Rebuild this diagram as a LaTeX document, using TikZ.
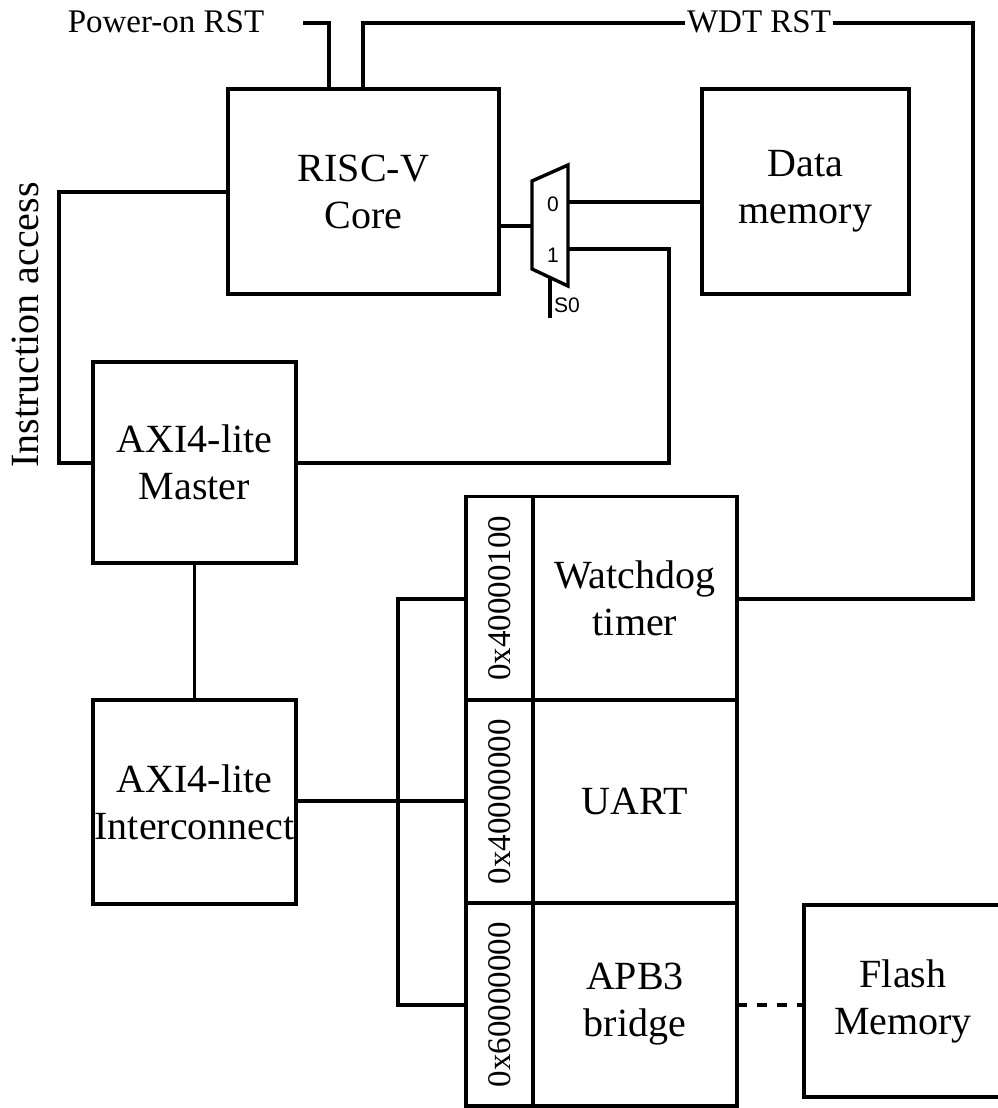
\documentclass[tikz,border=0pt]{standalone}
\usepackage{fontspec}
\setmainfont{Liberation Serif}
\newfontfamily\muxfont{Liberation Sans}
\begin{document}
\begin{tikzpicture}[x=1pt,y=-1pt,line width=3.4pt,
  blk/.style={draw,rectangle,inner sep=0pt,align=center,font=\fontsize{40}{47}\selectfont},
  addr/.style={draw,rectangle,inner sep=0pt,minimum width=67pt,minimum height=203pt},
  addrtxt/.style={rotate=90,font=\fontsize{33}{38}\selectfont},
  lbl/.style={inner sep=0pt,font=\fontsize{33}{38}\selectfont},
  muxlbl/.style={inner sep=0pt,font=\muxfont\fontsize{21}{24}\selectfont}]
\useasboundingbox (0,0) rectangle (997,1108);
% main blocks
\node[blk,minimum width=271pt,minimum height=205pt] (core) at (363.5,191.5) {RISC-V\\Core};
\node[blk,minimum width=207pt,minimum height=205pt] (dmem) at (805.5,191.5) {Data\\memory};
\node[blk,minimum width=203pt,minimum height=201pt] (master) at (194.5,462.5) {AXI4-lite\\Master};
\node[blk,minimum width=203pt,minimum height=204pt] (inter) at (194.5,802) {AXI4-lite\\Interconnect};
% address column
\node[addr] (a1) at (499.5,598) {};
\node[addr] (a2) at (499.5,801.5) {};
\node[addr] (a3) at (499.5,1004.5) {};
\node[addrtxt] at (a1) {0x40000100};
\node[addrtxt] at (a2) {0x40000000};
\node[addrtxt] at (a3) {0x60000000};
% peripherals
\node[blk,minimum width=204pt,minimum height=203pt] (wdt) at (635,598) {Watchdog\\timer};
\node[blk,minimum width=204pt,minimum height=203pt] (uart) at (635,801.5) {UART};
\node[blk,minimum width=204pt,minimum height=203pt] (apb) at (635,1004.5) {APB3\\bridge};
% flash memory (cut at right edge)
\node[inner sep=0pt,align=center,font=\fontsize{40}{47}\selectfont] (flash) at (903,1001) {Flash\\Memory};
\coordinate (fl) at (804,1005);
\draw[line join=miter] (1000,905) -- (804,905) -- (804,1097) -- (1000,1097);
% mux
\coordinate (mA) at (532,181);
\coordinate (mB) at (568,165);
\coordinate (mC) at (568,286);
\coordinate (mD) at (532,269);
\draw[line join=miter] (mA) -- (mB) -- (mC) -- (mD) -- cycle;
\node[muxlbl] at (553,204) {0};
\node[muxlbl] at (553,255) {1};
\node[muxlbl] at (567,305) {S0};
\coordinate (min) at (532,226);
\coordinate (m0) at (568,202);
\coordinate (m1) at (568,249);
\coordinate (sTop) at (550,277);
\coordinate (sBot) at (550,318);
\draw (sTop) -- (sBot);
% labels
\node[lbl] (por) at (166,22) {Power-on RST};
\node[lbl] (wdtrst) at (759,22) {WDT RST};
\node[rotate=90,inner sep=0pt,font=\fontsize{40}{47}\selectfont] (ia) at (25,325) {Instruction access};
% connectors
\coordinate (porEnd) at (303,23);
\draw[line join=miter] (porEnd) -- (329,23) -- (core.north -| 329,0);
\draw[line join=miter] (core.north -| 363,0) -- (363,23) -- (wdtrst.west |- 0,23);
\draw[line join=miter] (wdtrst.east |- 0,23) -- (973,23) -- (973,599) -- (wdt.east |- 0,599);
\draw[line join=miter] (core.west |- 0,192) -- (59,192) -- (59,463) -- (master.west |- 0,463);
\draw[line join=miter] (master.east |- 0,463) -- (669,463) -- (669,249) -- (m1);
\draw (core.east |- min) -- (min);
\draw (m0) -- (dmem.west |- m0);
\draw (master.south) -- (inter.north);
\draw (inter.east |- 0,801) -- (a2.west |- 0,801);
\draw[line join=miter] (a1.west |- 0,599) -- (398,599) -- (398,1005) -- (a3.west |- 0,1005);
\draw[dash pattern=on 10pt off 10pt,dash phase=2pt] (apb.east |- fl) -- (fl);
\end{tikzpicture}
\end{document}
